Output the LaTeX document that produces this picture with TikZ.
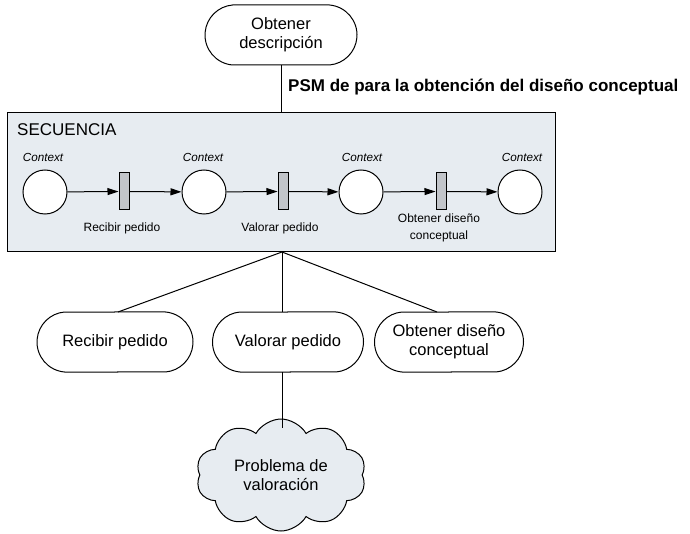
\documentclass[tikz,border=0pt]{standalone}
\usepackage{fontspec}
\setmainfont{Liberation Sans}
\usetikzlibrary{shapes.misc,shapes.symbols,arrows.meta}
\definecolor{boxfill}{HTML}{E7ECF1}
\definecolor{trfill}{HTML}{C2C5CA}
\tikzset{
  term/.style={draw, line width=1pt, rounded rectangle, rounded rectangle arc length=170, minimum height=60pt, align=center, font=\fontsize{16.5}{19}\selectfont, inner sep=2pt},
  place/.style={draw, line width=1pt, circle, fill=white, minimum size=44pt, inner sep=0pt},
  trans/.style={draw, line width=1pt, fill=trfill, minimum width=10pt, minimum height=37pt, inner sep=0pt},
  ctx/.style={font=\fontsize{11.7}{14}\selectfont\itshape},
  tlab/.style={font=\fontsize{12}{17}\selectfont, align=center},
  arc/.style={line width=1pt, -{Triangle[length=11pt,width=7pt]}},
  conn/.style={line width=1pt}
}
\begin{document}
\begin{tikzpicture}[x=1pt,y=-1pt]
\useasboundingbox (0,0) rectangle (690,534);
% top node
\node[term, minimum width=156pt] (top) at (281,35) {Obtener\\descripción};
% sequence box
\node[draw, line width=1pt, fill=boxfill, minimum width=548pt, minimum height=139pt, inner sep=0pt] (seq) at (281,182.5) {};
\node[anchor=west, font=\fontsize{17}{19}\selectfont, inner sep=0pt] (seqlab) at (17,130) {SECUENCIA};
\draw[conn] (top.south) -- (seq.north);
\node[anchor=west, font=\fontsize{17}{19}\selectfont\bfseries, inner sep=0pt] (psm) at (288,87) {PSM de para la obtención del diseño conceptual};
% places
\node[place] (p1) at (45,192) {};
\node[place] (p2) at (204,192) {};
\node[place] (p3) at (361,192) {};
\node[place] (p4) at (520,192) {};
\node[ctx] (c1) at (43,157) {Context};
\node[ctx] (c2) at (203,157) {Context};
\node[ctx] (c3) at (362,157) {Context};
\node[ctx] (c4) at (522,157) {Context};
% transitions
\node[trans] (t1) at (124,191.5) {};
\node[trans] (t2) at (283,191.5) {};
\node[trans] (t3) at (441,191.5) {};
\node[tlab] (l1) at (122,228) {Recibir pedido};
\node[tlab] (l2) at (280,228) {Valorar pedido};
\node[tlab] (l3) at (439,228) {Obtener diseño\\conceptual};
\draw[arc] (p1) -- (t1);
\draw[arc] (t1) -- (p2);
\draw[arc] (p2) -- (t2);
\draw[arc] (t2) -- (p3);
\draw[arc] (p3) -- (t3);
\draw[arc] (t3) -- (p4);
% bottom nodes
\node[term, minimum width=160pt] (b1) at (115,342) {Recibir pedido};
\node[term, minimum width=155pt] (b2) at (288,342) {Valorar pedido};
\node[term, minimum width=153pt] (b3) at (449,342) {Obtener diseño\\conceptual};
\coordinate (hub) at (282,252);
\draw[conn] (hub) -- (118,312);
\draw[conn] (hub) -- (282,312);
\draw[conn] (hub) -- (437,312);
% cloud
\node[draw, line width=1pt, cloud, cloud puffs=10, cloud puff arc=120, cloud ignores aspect, fill=boxfill, minimum width=170pt, minimum height=112pt, inner sep=0pt, align=center, font=\fontsize{16.5}{19}\selectfont] (cl) at (281,475) {Problema de\\valoración};
\draw[conn] (282,372) -- (282,428);
\end{tikzpicture}
\end{document}
